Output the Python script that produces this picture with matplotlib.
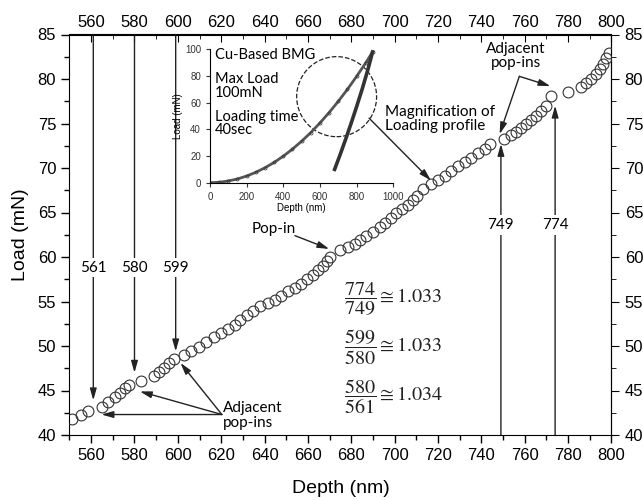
import numpy as np
import matplotlib
matplotlib.use('Agg')
import matplotlib.pyplot as plt
from matplotlib.ticker import MultipleLocator
from matplotlib.patches import Ellipse

plt.rcParams['font.family'] = ['Liberation Sans', 'DejaVu Sans']
plt.rcParams['mathtext.fontset'] = 'stix'
NOTE_FONT = ['Lato', 'DejaVu Sans']

# main loading profile (depth nm, load mN)
depth = [551.0, 555.2, 558.7, 564.8, 567.9, 570.9, 573.3, 575.6, 577.6, 582.9,
         589.1, 591.4, 593.7, 596.0, 598.2, 602.8, 606.0, 609.8, 613.2, 616.6,
         620.1, 623.2, 626.3, 628.6, 631.7, 634.7, 637.8, 641.6, 644.7, 647.8,
         650.8, 653.9, 657.0, 659.6, 662.4, 664.7, 667.0, 668.6, 670.3,
         674.6, 678.5, 681.6, 683.9, 687.0, 690.0, 693.1, 695.4, 698.5, 700.8,
         703.5, 706.1, 708.4, 710.5, 713.0, 716.9, 720.0, 723.0, 726.1, 729.2,
         732.3, 735.3, 738.4, 741.5, 743.8,
         750.2, 753.8, 756.1, 758.4, 760.7, 763.0, 765.3, 767.6, 769.9, 772.2,
         779.8, 786.0, 788.3, 790.6, 792.9, 794.5, 796.0, 797.6, 798.8]
load = [41.77, 42.25, 42.70, 43.18, 43.68, 44.31, 44.76, 45.26, 45.63, 46.11,
        46.64, 47.13, 47.58, 48.07, 48.56, 49.01, 49.49, 49.94, 50.44, 51.00,
        51.45, 51.90, 52.39, 52.87, 53.51, 53.96, 54.45, 54.83, 55.20, 55.65,
        56.14, 56.52, 57.00, 57.53, 58.02, 58.50, 59.03, 59.50, 60.01,
        60.75, 61.14, 61.51, 61.88, 62.33, 62.78, 63.35, 63.84, 64.40, 64.89,
        65.34, 65.79, 66.39, 66.91, 67.67, 68.15, 68.64, 69.09, 69.65, 70.21,
        70.66, 71.16, 71.64, 72.09, 72.66,
        73.22, 73.67, 74.04, 74.54, 74.91, 75.39, 75.84, 76.41, 76.97, 78.09,
        78.55, 79.05, 79.50, 80.00, 80.60, 81.10, 81.70, 82.40, 82.90]

# pop-in depths marked with arrows
popins_top = [561, 580, 599]
popins_top_tip = [43.9, 47.0, 49.4]
popins_bot = [749, 774]
popins_bot_tip = [72.7, 77.0]

# full indentation curve for inset
inset_load_depth = [0, 50, 100, 150, 200, 250, 300, 350, 400, 450, 500, 550,
                    600, 650, 700, 750, 800, 850, 887]
inset_load = [0, 0.3, 1.3, 2.8, 5.0, 7.8, 11.2, 15.2, 19.9, 25.2, 31.1, 37.6,
              44.8, 52.6, 61.0, 70.0, 79.7, 89.9, 98.0]
inset_unload_depth = [887, 860, 830, 800, 770, 740, 710, 680]
inset_unload = [98.0, 84.0, 70.0, 57.0, 44.5, 32.5, 21.0, 10.0]

ratios = [(774, 749, '1.033'), (599, 580, '1.033'), (580, 561, '1.034')]
ratio_y = [55.2, 49.8, 44.3]

fig = plt.figure(figsize=(6.43, 5.0), dpi=100)
ax = fig.add_axes([0.108, 0.13, 0.843, 0.801])

ax.plot(depth, load, 'o', ms=7.8, mfc='none', mec='#333333', mew=0.8, zorder=3)

ax.set_xlim(550, 800)
ax.set_ylim(40, 85)
ax.set_xticks(np.arange(560, 801, 20))
ax.xaxis.set_minor_locator(MultipleLocator(10))
ax.yaxis.set_major_locator(MultipleLocator(5))
ax.yaxis.set_minor_locator(MultipleLocator(2.5))
ax.tick_params(which='both', direction='out', labelsize=12)
ax.tick_params(which='major', length=6, width=1)
ax.tick_params(which='minor', length=3.5, width=1)

top = ax.secondary_xaxis('top')
top.set_xticks(np.arange(560, 801, 20))
top.xaxis.set_minor_locator(MultipleLocator(10))
top.tick_params(which='both', direction='in', labelsize=12)
top.tick_params(which='major', length=6)
top.tick_params(which='minor', length=3.5)

right = ax.secondary_yaxis('right')
right.set_yticks(np.arange(40, 86, 5))
right.yaxis.set_minor_locator(MultipleLocator(2.5))
right.tick_params(which='both', direction='out', labelsize=12)
right.tick_params(which='major', length=6)
right.tick_params(which='minor', length=3.5)

ax.set_xlabel('Depth (nm)', fontsize=14, labelpad=12)
ax.set_ylabel('Load (mN)', fontsize=14, labelpad=6)

arw = dict(arrowstyle='-|>,head_length=0.7,head_width=0.2', color='#222222', lw=1.0, shrinkA=0, shrinkB=0)

# pop-in markers from the top
for x, tip in zip(popins_top, popins_top_tip):
    ax.annotate('', xy=(x, tip), xytext=(x, 85), arrowprops=arw, zorder=2)
    ax.text(x, 58.8, str(x), ha='center', va='center', fontsize=11, family=NOTE_FONT,
            bbox=dict(fc='white', ec='none', pad=2), zorder=4)

# pop-in markers from the bottom
for x, tip in zip(popins_bot, popins_bot_tip):
    ax.annotate('', xy=(x, tip), xytext=(x, 40), arrowprops=arw, zorder=2)
    ax.text(x, 63.6, str(x), ha='center', va='center', fontsize=11, family=NOTE_FONT,
            bbox=dict(fc='white', ec='none', pad=2), zorder=4)

# adjacent pop-ins, lower left
ax.text(620.8, 42.2, 'Adjacent\npop-ins', ha='left', va='center', fontsize=11,
        family=NOTE_FONT, linespacing=1.05)
for tx, ty in [(564.8, 42.3), (582.5, 44.9), (601.2, 48.1)]:
    ax.annotate('', xy=(tx, ty), xytext=(620.3, 42.3), arrowprops=arw)

# adjacent pop-ins, upper right
ax.text(756.0, 82.6, 'Adjacent\npop-ins', ha='center', va='center', fontsize=11,
        family=NOTE_FONT, linespacing=1.05)
ax.annotate('', xy=(748.4, 73.8), xytext=(757.5, 80.3), arrowprops=arw)
ax.annotate('', xy=(771.8, 79.2), xytext=(757.5, 80.3), arrowprops=arw)

# single pop-in
ax.text(634, 63.2, 'Pop-in', ha='left', va='center', fontsize=11, family=NOTE_FONT)
ax.annotate('', xy=(669.8, 60.9), xytext=(654.0, 62.4), arrowprops=arw)

# magnification arrow
ax.text(695.4, 75.5, 'Magnification of\nLoading profile', ha='left', va='center',
        fontsize=11, family=NOTE_FONT, linespacing=1.05)
ax.annotate('', xy=(716.7, 68.6), xytext=(688.2, 75.6), arrowprops=arw, zorder=5)

# ratio formulas
for (a, b, r), y in zip(ratios, ratio_y):
    ax.text(676.5, y, r'$\dfrac{%d}{%d}\cong %s$' % (a, b, r), ha='left', va='center',
            fontsize=14.5, color='#222222')

# inset with the whole curve
ins = fig.add_axes([0.3266, 0.6346, 0.285, 0.2668])
ins.patch.set_alpha(0)
ins.plot(inset_load_depth, inset_load, '-', color='#555555', lw=2.0)
ins.plot(inset_load_depth, inset_load, 'o', ms=2.2, mfc='none', mec='#333333', mew=0.5)
ins.plot(inset_unload_depth, inset_unload, '-', color='#333333', lw=2.6)
ins.set_xlim(0, 1000)
ins.set_ylim(0, 100)
ins.set_xticks(range(0, 1001, 200))
ins.set_yticks(range(0, 101, 20))
ins.spines['top'].set_visible(False)
ins.spines['right'].set_visible(False)
ins.tick_params(labelsize=7, length=3, direction='out', colors='#333333')
ins.set_xlabel('Depth (nm)', fontsize=7, labelpad=1)
ins.set_ylabel('Load (mN)', fontsize=7, labelpad=1)
ins.text(27, 95.7, 'Cu-Based BMG', fontsize=10.5, va='center', family=NOTE_FONT)
ins.text(27, 72.5, 'Max Load\n100mN', fontsize=10.5, va='center', linespacing=0.95,
         family=NOTE_FONT)
ins.text(27, 44.5, 'Loading time\n40sec', fontsize=10.5, va='center', linespacing=0.95,
         family=NOTE_FONT)
ins.add_patch(Ellipse((691, 64.5), 436, 60, fill=False, ls='--', lw=0.9,
                      ec='#222222', clip_on=False))

fig.savefig('out.png', dpi=100)
